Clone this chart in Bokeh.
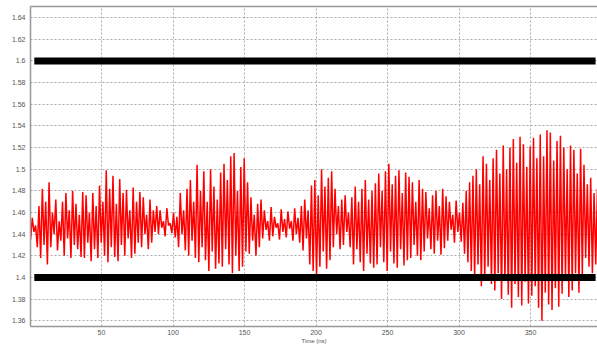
import numpy as np
from bokeh.plotting import figure
from bokeh.models import ColumnDataSource, FixedTicker, CustomJSTickFormatter, LinearAxis, Range1d
from bokeh.embed import file_html
from bokeh.resources import INLINE

# ---- data (peak and trough of each oscillation cycle) ----
peaks = [
    1.455, 1.448, 1.466,
    1.482, 1.470, 1.488,
    1.460, 1.472, 1.452, 1.470,
    1.478, 1.462, 1.480, 1.468, 1.458, 1.479,
    1.476, 1.460, 1.478, 1.466,
    1.485, 1.470, 1.499, 1.482, 1.494, 1.468, 1.491, 1.478,
    1.481, 1.462, 1.483, 1.470, 1.479,
    1.474, 1.458, 1.472, 1.462, 1.466,
    1.462, 1.452, 1.464, 1.450, 1.460, 1.456,
    1.478, 1.462, 1.482, 1.490, 1.470, 1.504,
    1.480, 1.498, 1.470, 1.500, 1.484, 1.472, 1.497,
    1.505, 1.490, 1.512, 1.515, 1.480, 1.502, 1.510, 1.488,
    1.474, 1.458, 1.468, 1.472,
    1.462, 1.452, 1.465, 1.456, 1.450, 1.463, 1.454, 1.461, 1.452, 1.464, 1.455, 1.466,
    1.472, 1.462, 1.485, 1.490, 1.476,
    1.500, 1.484, 1.492, 1.498,
    1.482, 1.466, 1.472, 1.476, 1.460, 1.474,
    1.484, 1.470, 1.482, 1.490, 1.472, 1.480, 1.487,
    1.496, 1.480, 1.498, 1.505, 1.486, 1.494, 1.499, 1.478, 1.497, 1.493,
    1.488, 1.470, 1.490, 1.482,
    1.479, 1.464, 1.476, 1.480, 1.466, 1.482, 1.475,
    1.470, 1.458, 1.471, 1.460, 1.469,
    1.480, 1.488, 1.494,
    1.500, 1.486, 1.512, 1.505, 1.490, 1.510, 1.518, 1.496,
    1.522, 1.500, 1.520, 1.528, 1.506, 1.530, 1.523, 1.502, 1.521, 1.529, 1.510,
    1.532, 1.512, 1.536, 1.534, 1.508, 1.526, 1.531,
    1.520, 1.500, 1.522, 1.518, 1.496, 1.519,
    1.504, 1.486, 1.492, 1.478, 1.482,
]
troughs = [
    1.435, 1.442, 1.428,
    1.418, 1.430, 1.412,
    1.428, 1.440, 1.425, 1.434,
    1.420, 1.436, 1.418, 1.430, 1.426, 1.419,
    1.418, 1.432, 1.415, 1.426,
    1.418, 1.432, 1.420, 1.414, 1.428, 1.419, 1.415, 1.430,
    1.420, 1.436, 1.418, 1.422, 1.432,
    1.428, 1.440, 1.426, 1.432, 1.442,
    1.440, 1.446, 1.438, 1.448, 1.441, 1.437,
    1.428, 1.440, 1.425, 1.420, 1.434, 1.418,
    1.414, 1.428, 1.416, 1.406, 1.424, 1.408, 1.413,
    1.410, 1.426, 1.412, 1.404, 1.420, 1.406, 1.410, 1.424,
    1.422, 1.434, 1.420, 1.428,
    1.436, 1.444, 1.434, 1.438, 1.446, 1.435, 1.442, 1.437, 1.445, 1.434, 1.440, 1.432,
    1.425, 1.436, 1.412, 1.406, 1.402,
    1.410, 1.424, 1.408, 1.416,
    1.428, 1.440, 1.426, 1.430, 1.442, 1.428,
    1.412, 1.426, 1.414, 1.406, 1.422, 1.413, 1.409,
    1.412, 1.428, 1.414, 1.406, 1.424, 1.413, 1.409, 1.426, 1.411, 1.416,
    1.418, 1.430, 1.420, 1.416,
    1.424, 1.436, 1.426, 1.422, 1.434, 1.421, 1.427,
    1.434, 1.444, 1.432, 1.442, 1.433,
    1.422, 1.414, 1.406,
    1.400, 1.412, 1.392, 1.398, 1.410, 1.394, 1.388, 1.404,
    1.380, 1.398, 1.384, 1.372, 1.394, 1.382, 1.374, 1.396, 1.376, 1.383, 1.392,
    1.372, 1.360, 1.386, 1.375, 1.370, 1.390, 1.373,
    1.385, 1.400, 1.382, 1.388, 1.404, 1.386,
    1.402, 1.418, 1.410, 1.404, 1.412,
]
t_first = 0.4
t_last = 396.8
limit_levels = [1.6, 1.4]
limit_start = 3.0
limit_end = 395.5
x_ticks = [50, 100, 150, 200, 250, 300, 350, 400]
y_ticks = [1.36, 1.38, 1.40, 1.42, 1.44, 1.46, 1.48, 1.50, 1.52, 1.54, 1.56, 1.58, 1.60, 1.62, 1.64]
x_title = "Time (ns)"

# ---- build the signal: trough, peak, trough, peak ... on a uniform time grid ----
n = len(peaks) + len(troughs)
values = np.empty(n)
values[0::2] = troughs
values[1::2] = peaks
times = np.linspace(t_first, t_last, n)
src = ColumnDataSource(dict(t=times, v=values))

p = figure(width=597, height=346, output_backend="svg", toolbar_location=None,
           x_range=Range1d(0.35, 396.85), y_range=Range1d(1.3547, 1.6503),
           min_border_left=30, min_border_right=0, min_border_top=6, min_border_bottom=0,
           outline_line_color=None, background_fill_color="white", border_fill_color="white")

gray_txt = "#555555"
font = "Liberation Sans"

p.xaxis.ticker = FixedTicker(ticks=x_ticks)
p.yaxis.ticker = FixedTicker(ticks=y_ticks)
p.yaxis.formatter = CustomJSTickFormatter(code="return tick.toFixed(2).replace(/0$/, '');")
for ax in (p.xaxis[0], p.yaxis[0]):
    ax.major_tick_out = 0
    ax.major_tick_in = 0
    ax.minor_tick_out = 0
    ax.minor_tick_in = 0
    ax.axis_line_color = "#999999"
    ax.axis_line_width = 1.5
    ax.major_label_text_font = font
    ax.major_label_text_font_size = "7px"
    ax.major_label_text_color = gray_txt
p.yaxis.major_label_standoff = 5
p.xaxis.major_label_standoff = 3
p.xaxis.axis_label = x_title
p.xaxis.axis_label_text_font = font
p.xaxis.axis_label_text_font_size = "6px"
p.xaxis.axis_label_text_font_style = "normal"
p.xaxis.axis_label_text_color = gray_txt
p.xaxis.axis_label_standoff = 0

top = LinearAxis(ticker=FixedTicker(ticks=[]), major_label_text_font_size="0px",
                 major_tick_out=0, major_tick_in=0, minor_tick_out=0, minor_tick_in=0,
                 major_label_standoff=0, axis_line_color="#999999", axis_line_width=1.5)
p.add_layout(top, "above")

p.xgrid.grid_line_color = "#aaaaaa"
p.ygrid.grid_line_color = "#aaaaaa"
p.xgrid.grid_line_dash = "2 2"
p.ygrid.grid_line_dash = "2 2"
p.xgrid.grid_line_width = 1
p.ygrid.grid_line_width = 1

p.line("t", "v", source=src, line_color="#ff0000", line_width=1.5, line_alpha=1.0)

for lv in limit_levels:
    p.line([limit_start, limit_end], [lv, lv], line_color="black", line_width=7, line_cap="butt")

open("out.html", "w").write(file_html(p, INLINE))
